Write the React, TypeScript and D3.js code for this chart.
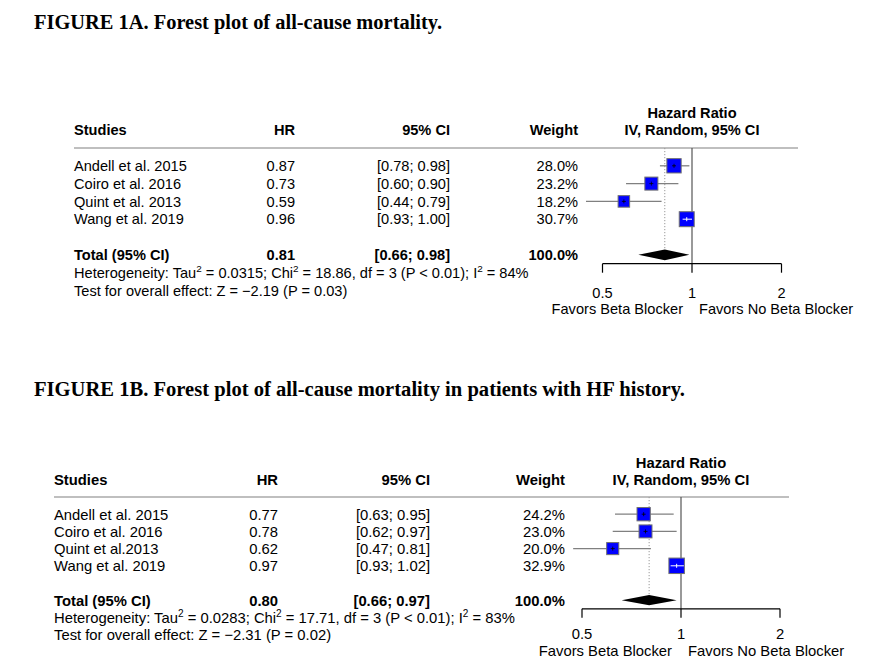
import * as d3 from 'd3';
import React from 'react';

// ---- data ----
const studiesA = ['Andell et al. 2015', 'Coiro et al. 2016', 'Quint et al. 2013', 'Wang et al. 2019'];
const hrA = [0.87, 0.73, 0.59, 0.96];
const loA = [0.78, 0.6, 0.44, 0.93];
const hiA = [0.98, 0.9, 0.79, 1.0];
const weightA = [28.0, 23.2, 18.2, 30.7];
const totalA = [0.81, 0.66, 0.98];
const hetA = ['0.0315', '18.86', '3', '84'];
const testA = ['−2.19', '0.03'];

const studiesB = ['Andell et al. 2015', 'Coiro et al. 2016', 'Quint et al.2013', 'Wang et al. 2019'];
const hrB = [0.77, 0.78, 0.62, 0.97];
const loB = [0.63, 0.62, 0.47, 0.93];
const hiB = [0.95, 0.97, 0.81, 1.02];
const weightB = [24.2, 23.0, 20.0, 32.9];
const totalB = [0.8, 0.66, 0.97];
const hetB = ['0.0283', '17.71', '3', '83'];
const testB = ['−2.31', '0.02'];

const ticks = [0.5, 1, 2];
const labelLeft = 'Favors Beta Blocker';
const labelRight = 'Favors No Beta Blocker';

const font = '"Liberation Sans", Arial, Helvetica, sans-serif';
const serif = '"Liberation Serif", "Times New Roman", serif';

type Layout = {
  title: string;
  titleY: number;
  titleW: number;
  fs: number;
  left: number;
  hrRight: number;
  ciRight: number;
  wRight: number;
  refX: number;
  perLog2: number;
  lineY: number;
  lineRight: number;
  rowH: number;
  tickY: number;
  favY: number;
};

const f2 = d3.format('.2f');
const f1 = d3.format('.1f');

const Forest = ({ lay, studies, hr, lo, hi, weight, total, het, test }) => {
  const x = d3
    .scaleLog()
    .base(2)
    .domain([0.5, 2])
    .range([lay.refX - lay.perLog2, lay.refX + lay.perLog2]);
  const side = d3.scaleSqrt().domain([0, 100]).range([0, 27]);
  const rowY = (i: number) => lay.lineY + lay.rowH * (i + 1);
  const totY = lay.lineY + lay.rowH * 6;
  const axisY = lay.lineY + lay.rowH * 6.5;
  const dh = lay.rowH * 0.3;
  const base = lay.fs * 0.36; // baseline offset from text centre
  const txt = { fontFamily: font, fontSize: lay.fs, fill: '#000' };
  const sup = (s: string) => (
    <>
      <tspan dy={-5.5} fontSize={lay.fs * 0.68}>2</tspan>
      <tspan dy={5.5} fontSize={lay.fs}>{s}</tspan>
    </>
  );

  return (
    <g>
      <text
        x={34}
        y={lay.titleY}
        fontFamily={serif}
        fontWeight="bold"
        fontSize={20.5}
        textLength={lay.titleW}
        lengthAdjust="spacingAndGlyphs"
      >
        {lay.title}
      </text>

      {/* header */}
      <g {...txt} fontWeight="bold">
        <text x={lay.refX} y={lay.lineY - lay.rowH * 2 + base} textAnchor="middle">Hazard Ratio</text>
        <text x={lay.refX} y={lay.lineY - lay.rowH + base} textAnchor="middle">IV, Random, 95% CI</text>
        <text x={lay.left} y={lay.lineY - lay.rowH + base}>Studies</text>
        <text x={lay.hrRight} y={lay.lineY - lay.rowH + base} textAnchor="end">HR</text>
        <text x={lay.ciRight} y={lay.lineY - lay.rowH + base} textAnchor="end">95% CI</text>
        <text x={lay.wRight} y={lay.lineY - lay.rowH + base} textAnchor="end">Weight</text>
      </g>
      <line x1={lay.left} x2={lay.lineRight} y1={lay.lineY} y2={lay.lineY} stroke="#808080" strokeWidth={1.2} />

      {/* reference lines */}
      <line x1={x(total[0])} x2={x(total[0])} y1={lay.lineY} y2={totY} stroke="#999" strokeDasharray="1.2,1.8" />
      <line x1={x(1)} x2={x(1)} y1={lay.lineY} y2={axisY} stroke="#555" strokeWidth={1.2} />

      {/* study rows */}
      {studies.map((s, i) => {
        const y = rowY(i);
        const w = side(weight[i]);
        const inside = x(lo[i]) > x(hr[i]) - w / 2 && x(hi[i]) < x(hr[i]) + w / 2;
        return (
          <g key={s}>
            <text {...txt} x={lay.left} y={y + base}>{s}</text>
            <text {...txt} x={lay.hrRight} y={y + base} textAnchor="end">{f2(hr[i])}</text>
            <text {...txt} x={lay.ciRight} y={y + base} textAnchor="end">
              [{f2(lo[i])}; {f2(hi[i])}]
            </text>
            <text {...txt} x={lay.wRight} y={y + base} textAnchor="end">{f1(weight[i])}%</text>
            <line x1={x(lo[i])} x2={x(hi[i])} y1={y} y2={y} stroke="#808080" strokeWidth={1.3} />
            <rect
              x={x(hr[i]) - w / 2}
              y={y - w / 2}
              width={w}
              height={w}
              fill="#0000ff"
              stroke="#707070"
              strokeWidth={1}
            />
            {inside ? (
              <g stroke="#fff" strokeWidth={1}>
                <line x1={x(lo[i])} x2={x(hi[i])} y1={y} y2={y} />
                <line x1={x(hr[i])} x2={x(hr[i])} y1={y - 2} y2={y + 2} />
              </g>
            ) : (
              <g stroke="#000" strokeWidth={0.8}>
                <line x1={x(hr[i]) - 2} x2={x(hr[i]) + 2} y1={y} y2={y} />
                <line x1={x(hr[i])} x2={x(hr[i])} y1={y - 2} y2={y + 2} />
              </g>
            )}
          </g>
        );
      })}

      {/* total row */}
      <g {...txt} fontWeight="bold">
        <text x={lay.left} y={totY + base}>Total (95% CI)</text>
        <text x={lay.hrRight} y={totY + base} textAnchor="end">{f2(total[0])}</text>
        <text x={lay.ciRight} y={totY + base} textAnchor="end">
          [{f2(total[1])}; {f2(total[2])}]
        </text>
        <text x={lay.wRight} y={totY + base} textAnchor="end">100.0%</text>
      </g>
      <polygon
        points={[
          [x(total[1]), totY],
          [x(total[0]), totY - dh],
          [x(total[2]), totY],
          [x(total[0]), totY + dh],
        ]
          .map((p) => p.join(','))
          .join(' ')}
        fill="#000"
      />
      <text {...txt} x={lay.left} y={totY + lay.rowH + base}>
        Heterogeneity: Tau{sup(` = ${het[0]}; Chi`)}
        {sup(` = ${het[1]}, df = ${het[2]} (P < 0.01); I`)}
        {sup(` = ${het[3]}%`)}
      </text>
      <text {...txt} x={lay.left} y={totY + lay.rowH * 2 + base}>
        Test for overall effect: Z = {test[0]} (P = {test[1]})
      </text>

      {/* axis */}
      <g stroke="#000" strokeWidth={1.2}>
        <line x1={x(0.5)} x2={x(2)} y1={axisY} y2={axisY} />
        {ticks.map((t) => (
          <line key={t} x1={x(t)} x2={x(t)} y1={axisY} y2={axisY + 9} />
        ))}
      </g>
      {ticks.map((t) => (
        <text key={t} {...txt} x={x(t)} y={axisY + lay.rowH * lay.tickY + base} textAnchor="middle">
          {t}
        </text>
      ))}
      <text {...txt} x={x(1) - 9} y={axisY + lay.rowH * lay.favY + base} textAnchor="end">{labelLeft}</text>
      <text {...txt} x={x(1) + 7} y={axisY + lay.rowH * lay.favY + base}>{labelRight}</text>
    </g>
  );
};

const layA: Layout = {
  title: 'FIGURE 1A. Forest plot of all-cause mortality.',
  titleY: 29,
  titleW: 408,
  fs: 14.6,
  left: 74,
  hrRight: 295,
  ciRight: 450,
  wRight: 578,
  refX: 692,
  perLog2: 89.5,
  lineY: 148,
  lineRight: 798,
  rowH: 17.8,
  tickY: 1.62,
  favY: 2.55,
};

const layB: Layout = {
  title: 'FIGURE 1B. Forest plot of all-cause mortality in patients with HF history.',
  titleY: 396,
  titleW: 651,
  fs: 14.8,
  left: 54,
  hrRight: 278,
  ciRight: 430,
  wRight: 565,
  refX: 681,
  perLog2: 99,
  lineY: 497,
  lineRight: 789,
  rowH: 17.2,
  tickY: 1.45,
  favY: 2.42,
};

export default function App() {
  return (
    <div style={{ position: 'absolute', left: 0, top: 0 }}>
      <svg width={875} height={659} style={{ display: 'block', background: '#fff' }}>
        <Forest lay={layA} studies={studiesA} hr={hrA} lo={loA} hi={hiA} weight={weightA} total={totalA} het={hetA} test={testA} />
        <Forest lay={layB} studies={studiesB} hr={hrB} lo={loB} hi={hiB} weight={weightB} total={totalB} het={hetB} test={testB} />
      </svg>
    </div>
  );
}
